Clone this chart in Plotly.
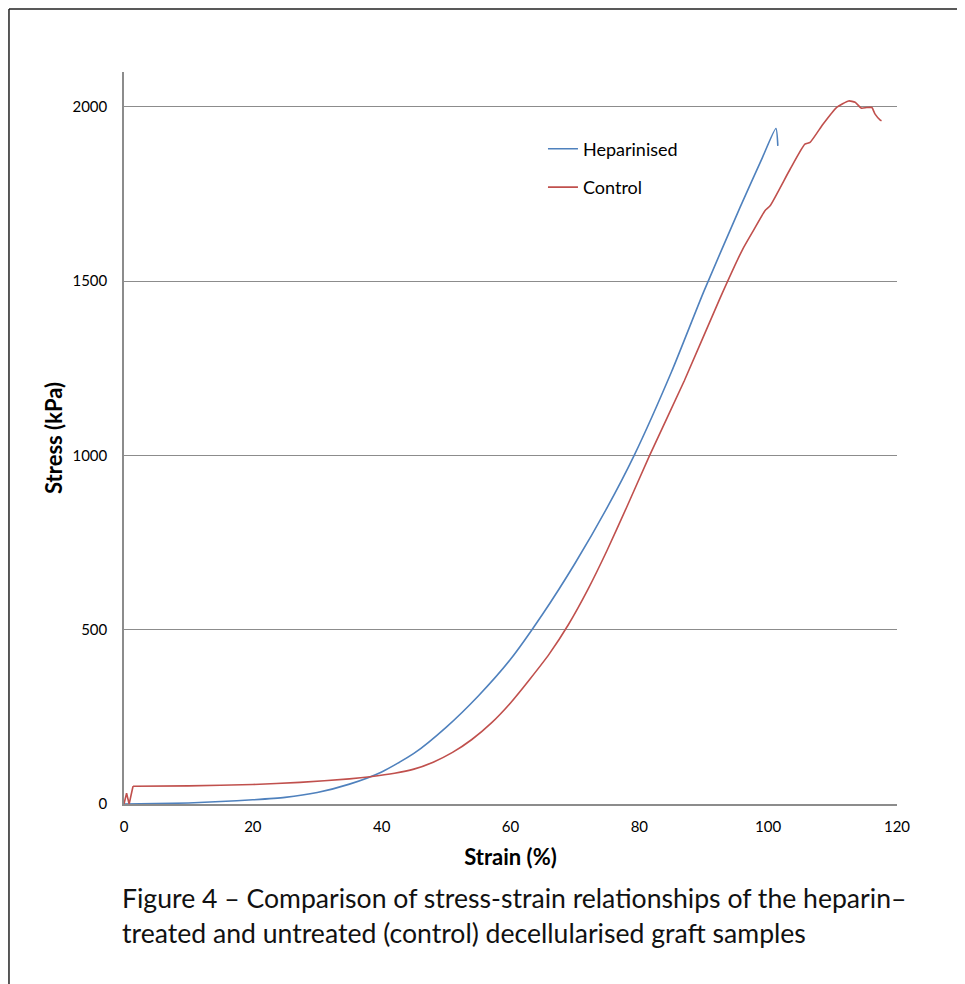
import plotly.graph_objects as go

# Heparinised series (strain %, stress kPa)
hep_strain = [0, 5, 10, 15, 20, 25, 30, 35, 40, 45, 50, 55, 60, 65, 70, 75, 79.2, 85, 90, 95.6, 99, 101.2, 101.5]
hep_stress = [0, 1, 3, 7, 12, 19, 33, 57, 92, 145, 220, 310, 415, 545, 690, 850, 1000, 1240, 1470, 1710, 1850, 1938, 1888]

# Control series
ctl_strain = [0, 0.4, 0.8, 1.4, 10, 20, 27.3, 35, 38.2, 42, 45, 48, 51, 54, 57, 60, 63, 66, 69, 72, 75, 78, 81.6, 87, 92.5, 96, 97.7, 99.5, 100.3, 103.4, 105.7, 106.5, 108.5, 110.6, 112.5, 113.5, 114.5, 115.3, 116.1, 116.6, 117.4, 117.6]
ctl_stress = [0, 31, 0, 51, 52, 56, 62, 72, 78, 88, 100, 120, 148, 185, 232, 290, 358, 430, 515, 615, 728, 850, 1000, 1215, 1450, 1590, 1645, 1702, 1716, 1821, 1893, 1898, 1950, 1998, 2017, 2013, 1996, 1998, 1998, 1979, 1962, 1960]

x_ticks = [0, 20, 40, 60, 80, 100, 120]
y_ticks = [0, 500, 1000, 1500, 2000]

FONT = "Lato"

fig = go.Figure()
fig.add_trace(go.Scatter(x=hep_strain, y=hep_stress, mode="lines", name="Heparinised",
                         line=dict(color="#4F81BD", width=1.6, shape="spline", smoothing=0.6),
                         legendgroup="a"))
fig.add_trace(go.Scatter(x=ctl_strain[:4], y=ctl_stress[:4], mode="lines", showlegend=False,
                         line=dict(color="#C0504D", width=1.6), legendgroup="b", hoverinfo="skip"))
fig.add_trace(go.Scatter(x=ctl_strain[3:], y=ctl_stress[3:], mode="lines", name="Control",
                         line=dict(color="#C0504D", width=1.6, shape="spline", smoothing=0.5),
                         legendgroup="b"))

fig.update_layout(
    width=957, height=976,
    margin=dict(l=116, r=68, t=64, b=180),
    paper_bgcolor="white", plot_bgcolor="white",
    font=dict(family=FONT, color="black"),
    showlegend=True,
    legend=dict(x=0.542, y=0.92, xanchor="left", yanchor="top",
                font=dict(size=18, family=FONT), tracegroupgap=12,
                bgcolor="rgba(0,0,0,0)", itemwidth=30),
    xaxis=dict(range=[0, 120], tickvals=x_ticks, showgrid=False,
               showline=True, linecolor="#8c8c8c", linewidth=1.5,
               zeroline=False, ticks="", tickfont=dict(size=15, family=FONT),
               ticklabelstandoff=8,
               title=dict(text="<b>Strain (%)</b>", font=dict(size=22, family=FONT), standoff=16)),
    yaxis=dict(range=[0, 2100], tickvals=y_ticks, showgrid=True,
               gridcolor="#8c8c8c", gridwidth=1.3,
               showline=True, linecolor="#8c8c8c", linewidth=1.5,
               zeroline=False, ticks="", tickfont=dict(size=15, family=FONT),
               ticklabelstandoff=12,
               title=dict(text="<b>Stress (kPa)</b>", font=dict(size=22, family=FONT), standoff=4)),
)

# figure frame (left and top edges)
fig.add_shape(type="line", xref="paper", yref="paper", x0=-0.1488, x1=-0.1488, y0=1.086, y1=-0.26,
              line=dict(color="#222222", width=1.5))
fig.add_shape(type="line", xref="paper", yref="paper", x0=-0.1488, x1=1.2, y0=1.086, y1=1.086,
              line=dict(color="#222222", width=1.5))

fig.add_annotation(xref="paper", yref="paper", x=-0.005, y=-0.104, xanchor="left", yanchor="top",
                   align="left", showarrow=False,
                   text="Figure 4 – Comparison of stress-strain relationships of the heparin–<br>treated and untreated (control) decellularised graft samples",
                   font=dict(size=26.6, family=FONT, color="#111111"))

fig.write_html("out.html")
